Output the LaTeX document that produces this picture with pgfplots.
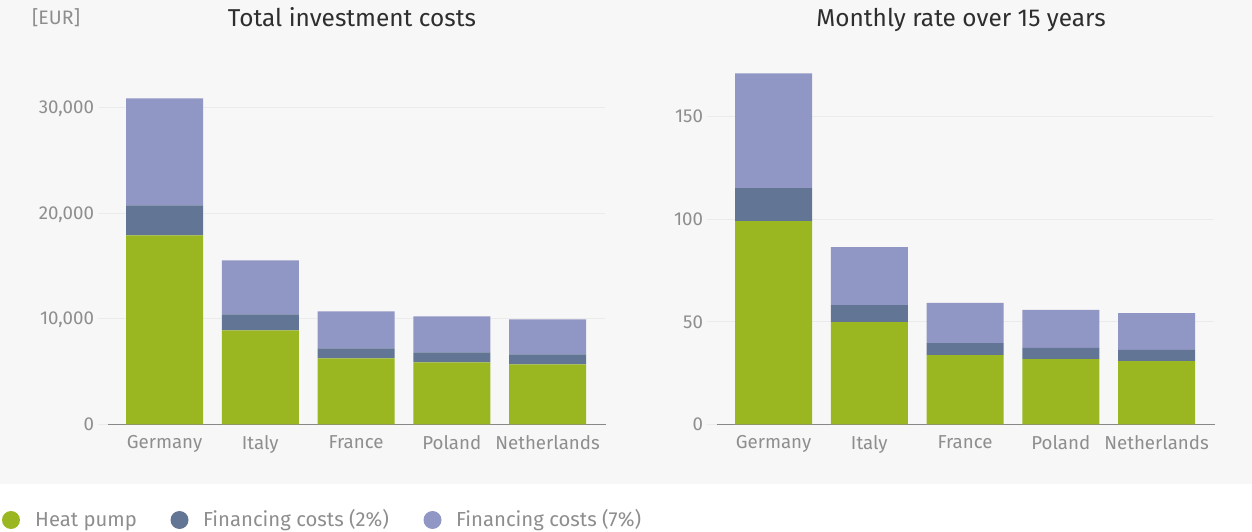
\documentclass[border=0pt]{standalone}
\usepackage{fontspec}
\setmainfont{Fira Sans}
\usepackage{pgfplots}
\usepackage{pgfplotstable}
\pgfplotsset{compat=1.18}
\definecolor{hp}{HTML}{9AB722}
\definecolor{fintwo}{HTML}{627594}
\definecolor{finseven}{HTML}{9197C4}
\definecolor{bg}{HTML}{F7F7F7}
\definecolor{gridc}{HTML}{EBEBEB}
\definecolor{axc}{HTML}{888888}
\definecolor{lab}{HTML}{8E8E8E}
\definecolor{ttl}{HTML}{2E2E2E}

\pgfplotstableread{
x hp f2 f7
0 17880 2840 10120
1 8890 1510 5115
2 6240 950 3500
3 5865 945 3410
4 5680 940 3310
}\totaltab

\pgfplotstableread{
x hp f2 f7
0 99.0 16.0 56.0
1 49.8 8.3 28.2
2 33.7 5.9 19.5
3 31.8 5.4 18.5
4 30.8 5.4 18.0
}\monthtab

\pgfplotsset{mybar/.style={
  scale only axis, width=507.5pt, height=359.2pt,
  ybar stacked, bar width=77pt,
  xmin=-0.7, xmax=4.6, ymin=0,
  xtick={0,...,4}, xticklabels={Germany,Italy,France,Poland,Netherlands},
  axis line style={draw=none}, major tick length=0pt,
  ymajorgrids, grid style={gridc, line width=1pt},
  tick label style={font=\fontsize{18.7}{20}\selectfont, color=lab},
  xticklabel style={yshift=-8pt},
  yticklabel style={text depth=0pt},
  scaled y ticks=false,
  /pgf/number format/.cd, 1000 sep={,}, assume math mode=true,
  /pgfplots/.cd,
  clip=false,
  anchor=south west,
}}

\begin{document}
\begin{tikzpicture}
\useasboundingbox (0,0) rectangle (1252pt,532pt);
\fill[white] (0,0) rectangle (1252pt,532pt);
\fill[bg] (0,48pt) rectangle (1252pt,532pt);

\begin{axis}[mybar, at={(97.5pt,107.7pt)}, ymax=34000, ytick={0,10000,20000,30000}]
\addplot[fill=hp, draw=none] table[x=x,y=hp]{\totaltab};
\addplot[fill=fintwo, draw=none] table[x=x,y=f2]{\totaltab};
\addplot[fill=finseven, draw=none] table[x=x,y=f7]{\totaltab};
\draw[axc, line width=1.2pt] (axis cs:-0.59,0) -- (axis cs:4.61,0);
\end{axis}

\begin{axis}[mybar, at={(706.5pt,107.7pt)}, ymax=175, ytick={0,50,100,150}]
\addplot[fill=hp, draw=none] table[x=x,y=hp]{\monthtab};
\addplot[fill=fintwo, draw=none] table[x=x,y=f2]{\monthtab};
\addplot[fill=finseven, draw=none] table[x=x,y=f7]{\monthtab};
\draw[axc, line width=1.2pt] (axis cs:-0.59,0) -- (axis cs:4.61,0);
\end{axis}

\node[anchor=base, font=\fontsize{24.4}{28}\selectfont, text=ttl, inner sep=0] at (352pt,505pt) {Total investment costs};
\node[anchor=base, font=\fontsize{24.4}{28}\selectfont, text=ttl, inner sep=0] at (961pt,505pt) {Monthly rate over 15 years};
\node[anchor=base west, font=\fontsize{19.5}{21}\selectfont, text=lab, inner sep=0] at (32pt,507pt) {[EUR]};

\fill[hp] (11pt,12pt) circle (9pt);
\node[anchor=base west, font=\fontsize{20.3}{22}\selectfont, text=lab, inner sep=0] at (35pt,5pt) {Heat pump};
\fill[fintwo] (179.5pt,12pt) circle (9pt);
\node[anchor=base west, font=\fontsize{20.3}{22}\selectfont, text=lab, inner sep=0] at (203pt,5pt) {Financing costs (2\%)};
\fill[finseven] (432.5pt,12pt) circle (9pt);
\node[anchor=base west, font=\fontsize{20.3}{22}\selectfont, text=lab, inner sep=0] at (456pt,5pt) {Financing costs (7\%)};
\end{tikzpicture}
\end{document}
